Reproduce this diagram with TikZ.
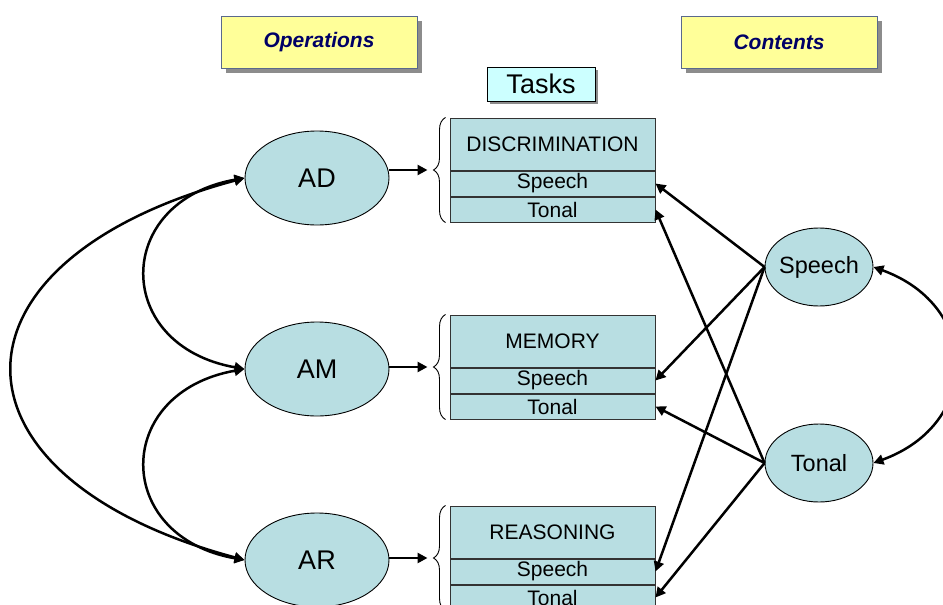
\documentclass[tikz,border=0pt]{standalone}
\usepackage{fontspec}
\setmainfont{Liberation Sans}
\usetikzlibrary{positioning}
\usetikzlibrary{calc}
\usetikzlibrary{shapes.geometric}
\usetikzlibrary{shadows}
\usetikzlibrary{arrows.meta}
\usetikzlibrary{decorations.pathreplacing}
\definecolor{factorblue}{RGB}{184,222,226}
\definecolor{notepad}{RGB}{255,255,153}
\definecolor{noteline}{RGB}{90,105,140}
\definecolor{notetext}{RGB}{0,0,102}
\definecolor{taskcyan}{RGB}{204,255,255}
\newcommand \fsz [1] {\fontsize{#1}{#1}\selectfont}
\tikzset{
	header/.style={
		draw=noteline,
		fill=notepad,
		minimum width=196pt,
		minimum height=52pt,
		font=\fsz{21}\bfseries\itshape,
		text=notetext,
		drop shadow={shadow xshift=5pt, shadow yshift=-5pt, fill=black!45, opacity=1}
	},
	tasktag/.style={
		draw,
		fill=taskcyan,
		inner sep=0pt,
		minimum width=108pt,
		minimum height=34pt,
		font=\fsz{27},
		drop shadow={shadow xshift=3pt, shadow yshift=-3pt, fill=black!45, opacity=1}
	},
	factor/.style={
		ellipse,
		draw,
		fill=factorblue,
		line width=0.9pt,
		inner sep=0pt,
		inner xsep=-15pt,
		minimum width=144pt,
		minimum height=94pt,
		font=\fsz{27}
	},
	content/.style={
		factor,
		minimum width=108pt,
		minimum height=78pt,
		font=\fsz{23.5}
	},
	taskhead/.style={
		draw=black!80,
		fill=factorblue,
		line width=1pt,
		inner sep=0pt,
		minimum width=205pt,
		minimum height=52pt,
		font=\fsz{21}
	},
	taskrow/.style={
		taskhead,
		minimum height=25pt
	},
	taskbrace/.style={
		decorate,
		decoration={brace, amplitude=12pt, raise=4pt},
		line width=0.9pt
	},
	link/.style={
		-{Triangle[length=10pt, width=10pt]},
		line width=2.5pt
	},
	cov/.style={
		{Triangle[length=10pt, width=10pt]}-{Triangle[length=10pt, width=10pt]},
		line width=2.5pt
	}
}
\begin{document}
\begin{tikzpicture}[x=1pt, y=-1pt]
	\useasboundingbox (0,0) rectangle (943,605);
	\node[header] (ops) at (319,42) {Operations};
	\node[header] (cnt) at (779,42) {Contents};
	\node[tasktag] (tasks) at (541,84) {Tasks};

	\node[factor] (ad) at (317,178) {AD};
	\node[factor] (am) at (317,369) {AM};
	\node[factor] (ar) at (317,560) {AR};
	\node[content] (spc) at (819,267) {Speech};
	\node[content] (ton) at (819,463) {Tonal};

	\node[taskhead] (disc) at (552.5,144) {DISCRIMINATION};
	\node[taskrow, below=0pt of disc] (disc-s) {Speech};
	\node[taskrow, below=0pt of disc-s] (disc-t) {Tonal};
	\node[taskhead] (mem) at (552.5,341) {MEMORY};
	\node[taskrow, below=0pt of mem] (mem-s) {Speech};
	\node[taskrow, below=0pt of mem-s] (mem-t) {Tonal};
	\node[taskhead] (rea) at (552.5,532) {REASONING};
	\node[taskrow, below=0pt of rea] (rea-s) {Speech};
	\node[taskrow, below=0pt of rea-s] (rea-t) {Tonal};

	\foreach \r/\f in {disc/ad, mem/am, rea/ar} {
		\draw[taskbrace] (\r-t.south west) -- (\r.north west);
		\coordinate (\r-b) at ($(\r.north west)!.5!(\r-t.south west)+(-22,0)$);
		\draw[link] (\f.east |- \r-b) -- (\r-b);
		\draw[link] (spc.west) -- (\r-s.east);
		\draw[link] (ton.west) -- (\r-t.east);
	}

	\draw[cov] (ad.west) to[out=190, in=170, looseness=1.8] (am.west);
	\draw[cov] (am.west) to[out=190, in=170, looseness=1.8] (ar.west);
	\draw[cov] (ad.west) to[out=195, in=165, looseness=2.15] (ar.west);
	\draw[cov] (spc.east) to[out=-20, in=20, looseness=1.5] (ton.east);
\end{tikzpicture}
\end{document}
